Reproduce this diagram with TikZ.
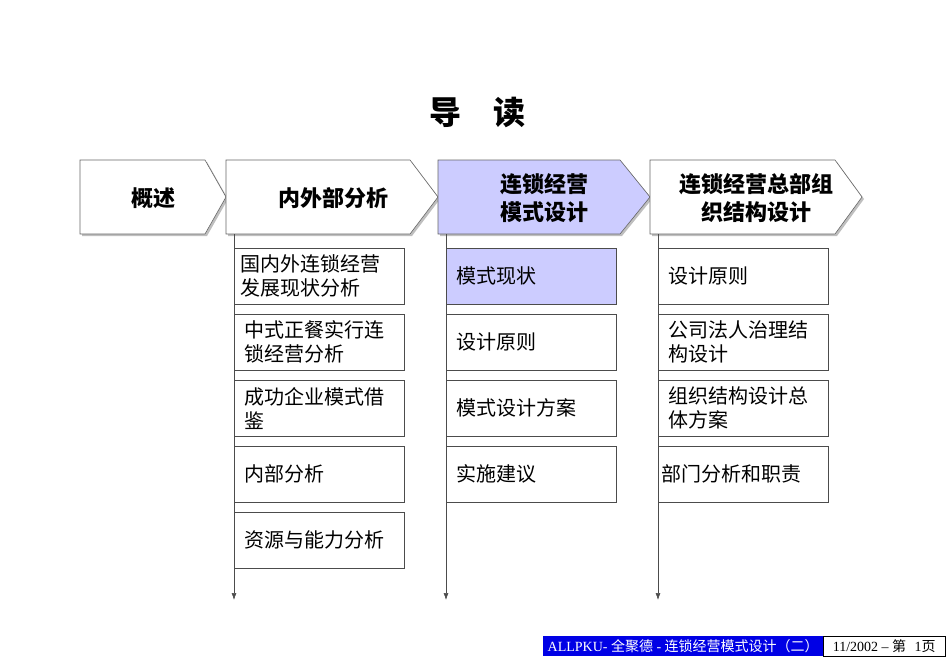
\documentclass[tikz,border=0pt]{standalone}
\usepackage{fontspec}
\usetikzlibrary{arrows.meta}
\setmainfont{Liberation Serif}
\newfontfamily\cjk{Noto Sans CJK SC}
\begin{document}
\begin{tikzpicture}[x=1pt,y=-1pt,
  chev/.style={draw=black!60,line width=0.6pt},
  item/.style={draw=black!70,line width=0.6pt,minimum width=170pt,minimum height=56pt,anchor=north west,text width=164pt,align=left,inner sep=3pt,font=\cjk\fontsize{20}{24}\selectfont},
  hd/.style={font=\cjk\bfseries\fontsize{22}{28}\selectfont,align=center},
  vline/.style={draw=black!70,line width=0.6pt,-{Latex[length=7pt,width=5pt]}}]
\useasboundingbox (0,0) rectangle (950,658);
\node[font=\cjk\bfseries\fontsize{32}{36}\selectfont] (title) at (477,112) {导\hspace{1em}读};
% chevrons
\fill[black!25] (82,162) -- (207,162) -- (228,199) -- (207,236) -- (82,236) -- cycle;
\draw[chev,fill=white] (80,160) -- (205,160) -- (226,197) -- (205,234) -- (80,234) -- cycle;
\fill[black!25] (228,162) -- (412,162) -- (440,199) -- (412,236) -- (228,236) -- cycle;
\draw[chev,fill=white] (226,160) -- (410,160) -- (438,197) -- (410,234) -- (226,234) -- cycle;
\fill[black!25] (440,162) -- (622,162) -- (652,199) -- (622,236) -- (440,236) -- cycle;
\draw[chev,fill=blue!20] (438,160) -- (620,160) -- (650,197) -- (620,234) -- (438,234) -- cycle;
\fill[black!25] (652,162) -- (837,162) -- (864,199) -- (837,236) -- (652,236) -- cycle;
\draw[chev,fill=white] (650,160) -- (835,160) -- (862,197) -- (835,234) -- (650,234) -- cycle;
\node[hd] (h1) at (153,198) {概述};
\node[hd] (h2) at (333,198) {内外部分析};
\node[hd] (h3) at (544,198) {连锁经营\\模式设计};
\node[hd] (h4) at (756,198) {连锁经营总部组\\织结构设计};
% vertical lines
\coordinate (e1) at (234,600); \coordinate (e2) at (446,600); \coordinate (e3) at (658,600);
\coordinate (s1) at (234,234); \coordinate (s2) at (446,234); \coordinate (s3) at (658,234);
\draw[vline] (s1) -- (e1); \draw[vline] (s2) -- (e2); \draw[vline] (s3) -- (e3);
% column 1
\node[item,fill=white] (a1) at (234,248) {\hspace{3pt}国内外连锁经营\\\hspace{3pt}发展现状分析};
\node[item,fill=white] (a2) at (234,314) {\hspace{7pt}中式正餐实行连\\\hspace{7pt}锁经营分析};
\node[item,fill=white] (a3) at (234,380) {\hspace{7pt}成功企业模式借\\\hspace{7pt}鉴};
\node[item,fill=white] (a4) at (234,446) {\hspace{7pt}内部分析};
\node[item,fill=white] (a5) at (234,512) {\hspace{7pt}资源与能力分析};
% column 2
\node[item,fill=blue!20] (b1) at (446,248) {\hspace{7pt}模式现状};
\node[item,fill=white] (b2) at (446,314) {\hspace{7pt}设计原则};
\node[item,fill=white] (b3) at (446,380) {\hspace{7pt}模式设计方案};
\node[item,fill=white] (b4) at (446,446) {\hspace{7pt}实施建议};
% column 3
\node[item,fill=white] (c1) at (658,248) {\hspace{7pt}设计原则};
\node[item,fill=white] (c2) at (658,314) {\hspace{7pt}公司法人治理结\\\hspace{7pt}构设计};
\node[item,fill=white] (c3) at (658,380) {\hspace{7pt}组织结构设计总\\\hspace{7pt}体方案};
\node[item,fill=white] (c4) at (658,446) {部门分析和职责};
% footer
\node[fill=blue!90!black,text=white,anchor=north west,minimum width=280pt,minimum height=20pt,inner sep=1pt,font=\fontsize{14}{16}\selectfont] (f1) at (543,636) {ALLPKU- {\cjk 全聚德} - {\cjk 连锁经营模式设计（二）}};
\node[draw,fill=white,anchor=north west,minimum width=122pt,minimum height=20pt,inner sep=1pt,font=\fontsize{14}{16}\selectfont] (f2) at (823,636) {11/2002 -- {\cjk 第}\hspace{0.6em}1{\cjk 页}};
\end{tikzpicture}
\end{document}
